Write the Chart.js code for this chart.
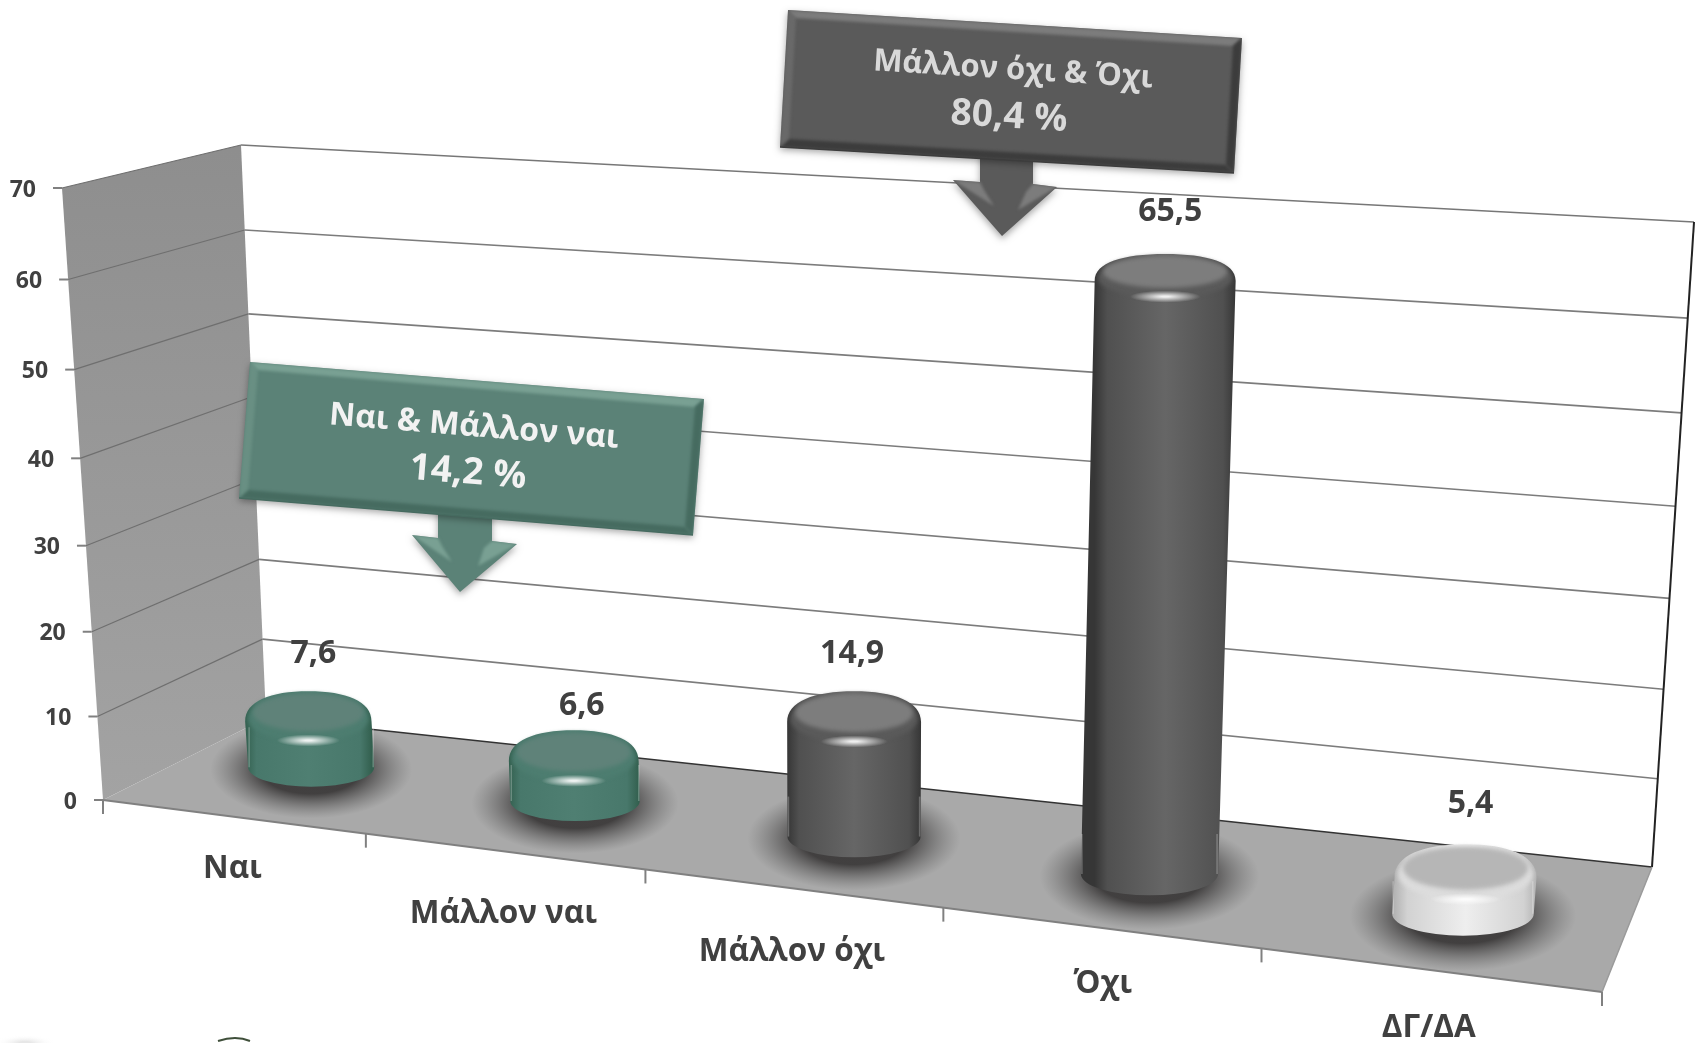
<!DOCTYPE html>
<html lang="el">
<head>
<meta charset="utf-8">
<title>Chart</title>
<script src="https://cdn.jsdelivr.net/npm/chart.js@4"></script>
<style>
  html, body { margin: 0; padding: 0; background: #fff; }
  canvas { display: block; }
</style>
</head>
<body>
<canvas id="chart" width="1700" height="1043"></canvas>
<script>
// Chart data
const categories = ['Ναι', 'Μάλλον ναι', 'Μάλλον όχι', 'Όχι', 'ΔΓ/ΔΑ'];
const values = [7.6, 6.6, 14.9, 65.5, 5.4];
const yMax = 70;
const yStep = 10;
const calloutTitles = ['Ναι & Μάλλον ναι', 'Μάλλον όχι & Όχι'];
const calloutTotals = ['14,2 %', '80,4 %'];

// Colours of the cylinders, one per category
const barEdge = ['#33604f', '#33604f', '#363636', '#363636', '#b4b4b4'];
const barSide = ['#48786b', '#48786b', '#505050', '#505050', '#d2d2d2'];
const barMid = ['#4f7f72', '#4f7f72', '#666666', '#666666', '#eeeeee'];
const barTop = ['#5f8279', '#5f8279', '#7d7d7d', '#7d7d7d', '#b6b6b6'];
const barRim = ['#4d7d70', '#4d7d70', '#5a5a5a', '#5a5a5a', '#dcdcdc'];

const textColor = '#404040';
const fontFamily = '"Open Sans", "Noto Sans", sans-serif';

// Corners of the 3D box on the page, the order is
// bottom left, bottom right, top right, top left
const frontWall = [[103, 800], [1602, 992], [1651, 278], [62, 188]];
const backWall = [[266, 718], [1652, 867], [1694, 222], [241, 145]];
const barDepth = 0.5;

// Hand nudges of the labels, they sit unevenly in the picture
const categoryDrop = [52, 63, 64, 56, 58];
const categoryShift = [0, 0, 0, 3, 0];
const valueRise = [37, 24, 37, 42, 40];
const valueShift = [5, 8, -2, 5, 5];

// Maps the unit square on a quad (Heckbert)
function squareToQuad(q) {
    const [[x0, y0], [x1, y1], [x2, y2], [x3, y3]] = q;
    const dx1 = x1 - x2, dx2 = x3 - x2, sx = x0 - x1 + x2 - x3;
    const dy1 = y1 - y2, dy2 = y3 - y2, sy = y0 - y1 + y2 - y3;
    const den = dx1 * dy2 - dx2 * dy1;
    const g = (sx * dy2 - dx2 * sy) / den;
    const h = (dx1 * sy - sx * dy1) / den;
    const a = x1 - x0 + g * x1, b = x3 - x0 + h * x3;
    const d = y1 - y0 + g * y1, e = y3 - y0 + h * y3;
    return (u, v) => {
        const w = g * u + h * v + 1;
        return [(a * u + b * v + x0) / w, (d * u + e * v + y0) / w];
    };
}

const frontMap = squareToQuad(frontWall);
const backMap = squareToQuad(backWall);

// u along the categories, v up the value axis, depth 0 is front and 1 is back
function project(u, v, depth) {
    const f = frontMap(u, v);
    const b = backMap(u, v);
    return [f[0] + (b[0] - f[0]) * depth, f[1] + (b[1] - f[1]) * depth];
}

function polygon(ctx, points) {
    ctx.beginPath();
    points.forEach((p, i) => i ? ctx.lineTo(p[0], p[1]) : ctx.moveTo(p[0], p[1]));
    ctx.closePath();
}

function segment(ctx, a, b, color, width) {
    ctx.strokeStyle = color;
    ctx.lineWidth = width;
    ctx.beginPath();
    ctx.moveTo(a[0], a[1]);
    ctx.lineTo(b[0], b[1]);
    ctx.stroke();
}

function softEllipse(ctx, x, y, rx, ry, inner, outer, hold) {
    ctx.save();
    ctx.translate(x, y);
    ctx.scale(rx, ry);
    const grad = ctx.createRadialGradient(0, 0, 0, 0, 0, 1);
    grad.addColorStop(0, inner);
    grad.addColorStop(hold, inner);
    grad.addColorStop(1, outer);
    ctx.fillStyle = grad;
    ctx.beginPath();
    ctx.arc(0, 0, 1, 0, Math.PI * 2);
    ctx.fill();
    ctx.restore();
}

// Walls, floor, grid lines and tick labels
function drawBox(chart) {
    const ctx = chart.ctx;
    const yScale = chart.scales.y;
    const xScale = chart.scales.x;
    const vOf = value => (yScale.bottom - yScale.getPixelForValue(value)) / yScale.height;

    polygon(ctx, [project(0, 0, 1), project(1, 0, 1), project(1, 1, 1), project(0, 1, 1)]);
    ctx.fillStyle = '#ffffff';
    ctx.fill();

    polygon(ctx, [project(0, 0, 0), project(0, 0, 1), project(0, 1, 1), project(0, 1, 0)]);
    const wall = ctx.createLinearGradient(0, 150, 0, 800);
    wall.addColorStop(0, '#8e8e8e');
    wall.addColorStop(1, '#a3a3a3');
    ctx.fillStyle = wall;
    ctx.fill();

    polygon(ctx, [project(0, 0, 0), project(1, 0, 0), project(1, 0, 1), project(0, 0, 1)]);
    ctx.fillStyle = '#a9a9a9';
    ctx.fill();

    ctx.textAlign = 'right';
    ctx.textBaseline = 'middle';
    ctx.font = 'bold 23px ' + fontFamily;
    yScale.ticks.forEach(tick => {
        const v = vOf(tick.value);
        const a = project(0, v, 0), b = project(0, v, 1), c = project(1, v, 1);
        if (tick.value > 0) {
            segment(ctx, a, b, '#6f6f6f', 1.2);
            segment(ctx, b, c, tick.value === yMax ? '#777777' : '#7c7c7c', 1.6);
        }
        segment(ctx, [a[0] - 9, a[1]], a, '#808080', 2);
        ctx.fillStyle = textColor;
        ctx.fillText(String(tick.value), a[0] - 26, a[1] + 2);
    });

    // box edges
    segment(ctx, project(0, 0, 1), project(1, 0, 1), '#333333', 1.5);
    segment(ctx, project(1, 0, 1), project(1, 1, 1), '#222222', 2);
    segment(ctx, project(0, 0, 0), project(1, 0, 0), '#808080', 2);
    segment(ctx, project(1, 0, 0), project(1, 0, 1), '#9a9a9a', 1.5);

    // ticks and labels of the categories
    const n = categories.length;
    for (let i = 0; i <= n; i++) {
        const p = project(i / n, 0, 0);
        segment(ctx, p, [p[0], p[1] + 14], '#808080', 2);
    }
    ctx.textAlign = 'center';
    ctx.font = 'bold 31.5px ' + fontFamily;
    ctx.fillStyle = textColor;
    categories.forEach((label, i) => {
        const u = (xScale.getPixelForValue(i) - xScale.left) / xScale.width;
        const p = project(u, 0, 0);
        ctx.fillText(label, p[0] + categoryShift[i], p[1] + categoryDrop[i]);
    });
}

// One cylinder, placed from the bar element that Chart.js worked out
function drawCylinder(chart, el, i) {
    const ctx = chart.ctx;
    const area = chart.chartArea;
    const u = (el.x - area.left) / area.width;
    const halfU = el.width / 2 / area.width;
    const v = (area.bottom - el.y) / area.height;

    // the row of cylinders runs a little steeper than the box floor
    const base = project(u, 0, barDepth);
    base[1] += -8 + 13 * u;
    const top = project(u, v, barDepth);
    top[1] += 1 + 8 * u;
    // the cylinders widen less from left to right than the floor does
    const widthAt = w => 33 + 0.52 * (project(u + halfU, w, barDepth)[0] - project(u - halfU, w, barDepth)[0]) / 2;
    const rxB = widthAt(0);
    const rxT = widthAt(v);
    const ryB = rxB * 0.31;
    const ryT = rxT * (0.36 - 0.10 * v);
    const cx = top[0], cy = top[1];

    // floor shadow
    ctx.save();
    polygon(ctx, [project(0, 0, 0), project(1, 0, 0), project(1, 0, 1), project(0, 0, 1)]);
    ctx.clip();
    softEllipse(ctx, base[0], base[1] + 2, rxB * 1.6, rxB * 0.78, 'rgba(60,58,58,0.95)', 'rgba(100,100,100,0)', 0.5);
    ctx.restore();

    // body with a rounded shoulder
    const body = ctx.createLinearGradient(cx - rxT, 0, cx + rxT, 0);
    body.addColorStop(0, barEdge[i]);
    body.addColorStop(0.09, barSide[i]);
    body.addColorStop(0.5, barMid[i]);
    body.addColorStop(0.91, barSide[i]);
    body.addColorStop(1, barEdge[i]);
    ctx.fillStyle = body;
    ctx.beginPath();
    ctx.moveTo(cx - rxT, cy + 8);
    ctx.lineTo(base[0] - rxB, base[1]);
    ctx.ellipse(base[0], base[1], rxB, ryB, 0, Math.PI, 0, true);
    ctx.lineTo(cx + rxT, cy + 8);
    ctx.bezierCurveTo(cx + rxT, cy - ryT * 0.55, cx + rxT * 0.6, cy - ryT, cx, cy - ryT);
    ctx.bezierCurveTo(cx - rxT * 0.6, cy - ryT, cx - rxT, cy - ryT * 0.55, cx - rxT, cy + 8);
    ctx.closePath();
    ctx.fill();

    // pale rims low on the sides
    const rimFrom = Math.max(cy + 12, base[1] - 40);
    segment(ctx, [base[0] - rxB + 1, rimFrom], [base[0] - rxB + 1, base[1]], 'rgba(255,255,255,0.25)', 1.5);
    segment(ctx, [base[0] + rxB - 1, rimFrom], [base[0] + rxB - 1, base[1]], 'rgba(255,255,255,0.25)', 1.5);

    // shoulder and flat top, both blurred a bit
    ctx.save();
    ctx.filter = 'blur(2px)';
    ctx.fillStyle = barRim[i];
    ctx.beginPath();
    ctx.ellipse(cx, cy + 5, rxT * 0.95, ryT + 1, 0, 0, Math.PI * 2);
    ctx.fill();
    ctx.fillStyle = barTop[i];
    ctx.beginPath();
    ctx.ellipse(cx, cy - 1, rxT * 0.88, ryT * 0.86, 0, 0, Math.PI * 2);
    ctx.fill();
    ctx.restore();

    // highlight on the shoulder
    softEllipse(ctx, cx, cy + ryT + 5, rxT * 0.5, 6, 'rgba(255,255,255,0.9)', 'rgba(255,255,255,0)', 0.1);

    // value label
    ctx.fillStyle = textColor;
    ctx.font = 'bold 32px ' + fontFamily;
    ctx.textAlign = 'center';
    ctx.textBaseline = 'middle';
    ctx.fillText(String(values[i]).replace('.', ','), cx + valueShift[i], cy - ryT - valueRise[i]);
}

// Banner with a down arrow, not part of the axes
function drawCallout(ctx, box, arrow, fill, light, dark, textFill, title, total, titleAt, totalAt, titleSize) {
    const [tl, tr, br, bl] = box;
    ctx.save();
    ctx.shadowColor = 'rgba(0,0,0,0.35)';
    ctx.shadowBlur = 7;
    ctx.shadowOffsetY = 3;
    ctx.fillStyle = fill;
    polygon(ctx, arrow.shape);
    ctx.fill();
    polygon(ctx, box);
    ctx.fill();
    ctx.restore();

    // arrow head bevel
    ctx.save();
    polygon(ctx, arrow.shape);
    ctx.clip();
    ctx.filter = 'blur(1.5px)';
    ctx.fillStyle = light;
    polygon(ctx, arrow.leftFin);
    ctx.fill();
    polygon(ctx, arrow.rightFin);
    ctx.fill();
    ctx.restore();

    // box bevel
    const inset = (p, dx, dy) => [p[0] + dx, p[1] + dy];
    const i1 = inset(tl, 8, 8), i2 = inset(tr, -9, 8), i3 = inset(br, -8, -8), i4 = inset(bl, 9, -8);
    ctx.save();
    polygon(ctx, box);
    ctx.clip();
    ctx.filter = 'blur(1.5px)';
    ctx.fillStyle = light;
    polygon(ctx, [tl, tr, i2, i1]);
    ctx.fill();
    ctx.fillStyle = dark;
    polygon(ctx, [bl, br, i3, i4]);
    ctx.fill();
    polygon(ctx, [tr, br, i3, i2]);
    ctx.fill();
    ctx.globalAlpha = 0.45;
    ctx.fillStyle = light;
    polygon(ctx, [tl, bl, i4, i1]);
    ctx.fill();
    ctx.restore();
    segment(ctx, bl, br, dark, 1.5);

    const angle = Math.atan2(tr[1] - tl[1], tr[0] - tl[0]);
    ctx.fillStyle = textFill;
    ctx.textAlign = 'center';
    ctx.textBaseline = 'middle';
    [[title, titleAt, 'bold ' + titleSize + 'px '], [total, totalAt, 'bold 37px ']].forEach(([text, at, font]) => {
        ctx.save();
        ctx.translate(at[0], at[1]);
        ctx.rotate(angle);
        ctx.font = font + fontFamily;
        ctx.fillText(text, 0, 0);
        ctx.restore();
    });
}

const boxPlugin = {
    id: 'box3d',
    beforeDatasetsDraw(chart) {
        drawBox(chart);
        chart.getDatasetMeta(0).data.forEach((el, i) => drawCylinder(chart, el, i));
        return false;
    },
    afterDraw(chart) {
        const ctx = chart.ctx;
        drawCallout(ctx,
            [[250, 362], [704, 399], [693, 535], [239, 498]],
            {
                shape: [[438, 500], [492, 505], [492, 541], [517, 544], [460, 592], [412, 535], [438, 538]],
                leftFin: [[412, 535], [438, 538], [442, 546], [452, 562]],
                rightFin: [[517, 544], [492, 541], [484, 548], [478, 566]]
            },
            '#5b8277', '#79a093', '#466b60', '#f2f2f2',
            calloutTitles[0], calloutTotals[0], [474, 427], [468, 473], 32);
        drawCallout(ctx,
            [[788, 10], [1242, 38], [1234, 173], [780, 147]],
            {
                shape: [[980, 140], [1033, 145], [1033, 184], [1057, 187], [1002, 236], [953, 180], [980, 182]],
                leftFin: [[953, 180], [980, 182], [984, 190], [994, 206]],
                rightFin: [[1057, 187], [1033, 184], [1026, 192], [1018, 210]]
            },
            '#5a5a5a', '#7c7c7c', '#3c3c3c', '#d9d9d9',
            calloutTitles[1], calloutTotals[1], [1013, 70], [1009, 117], 31);

        // stray scraps at the bottom edge of the source picture
        ctx.strokeStyle = '#3f4f3a';
        ctx.lineWidth = 2;
        ctx.beginPath();
        ctx.moveTo(218, 1041);
        ctx.quadraticCurveTo(236, 1035, 250, 1041);
        ctx.stroke();
        softEllipse(ctx, 25, 1043, 30, 8, 'rgba(225,225,225,0.8)', 'rgba(255,255,255,0)', 0.2);
    }
};

new Chart(document.getElementById('chart'), {
    type: 'bar',
    data: {
        labels: categories,
        datasets: [{
            data: values,
            backgroundColor: barMid,
            barPercentage: 0.45,
            categoryPercentage: 1
        }]
    },
    options: {
        responsive: false,
        animation: false,
        layout: { padding: 0 },
        plugins: { legend: { display: false }, tooltip: { enabled: false } },
        scales: {
            x: { display: false },
            y: { display: false, min: 0, max: yMax, ticks: { stepSize: yStep } }
        }
    },
    plugins: [boxPlugin]
});
</script>
</body>
</html>
